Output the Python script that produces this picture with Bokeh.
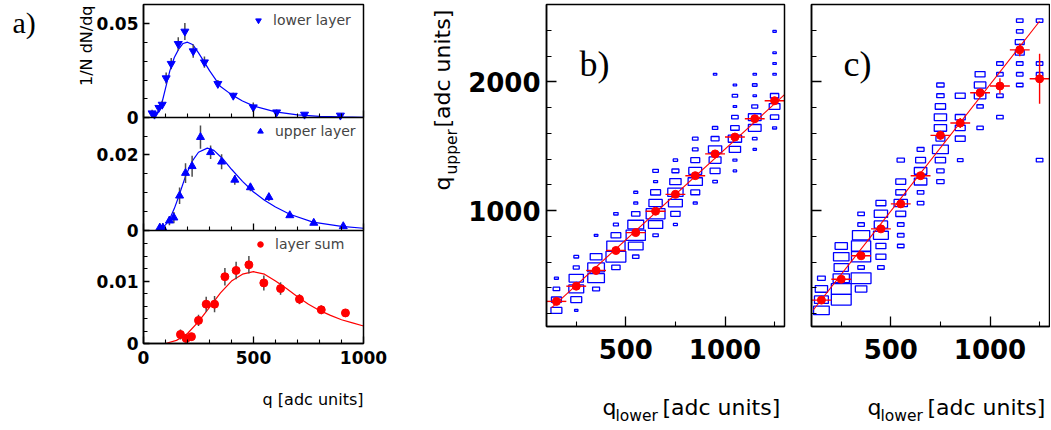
import math
import numpy as np
from bokeh.plotting import figure
from bokeh.models import (Range1d, FixedTicker, Label, Legend, LegendItem, LinearAxis,
                          BoxAnnotation)
from bokeh.layouts import row
from bokeh.embed import file_html
from bokeh.resources import INLINE

# ---------------- panel a data ----------------
lower_q = [39, 50, 70, 85, 103, 126, 158, 188, 226, 277, 338, 408, 499, 605, 732, 895]
lower_v = [0.0023, 0.0016, 0.0052, 0.0069, 0.0210, 0.0287, 0.0393, 0.0459, 0.0354, 0.0295,
           0.0180, 0.0117, 0.0055, 0.0028, 0.0016, 0.0011]
lower_e = [0.0018, 0.0015, 0.0015, 0.0020, 0.0030, 0.0030, 0.0035, 0.0045, 0.0035, 0.0030,
           0.0020, 0.0015, 0.0025, 0.0015, 0.0010, 0.0010]
lower_fit_q = [40, 60, 80, 100, 120, 140, 160, 180, 200, 225, 250, 275, 300, 350, 400, 450,
               500, 600, 700, 800, 900, 1000]
lower_fit_v = [0.0005, 0.0020, 0.0060, 0.0155, 0.0250, 0.0320, 0.0365, 0.0395, 0.0402, 0.0388,
               0.0345, 0.0298, 0.0250, 0.0165, 0.0122, 0.0088, 0.0062, 0.0030, 0.0014, 0.0006,
               0.0003, 0.0001]

upper_q = [74, 88, 118, 138, 164, 191, 221, 259, 305, 355, 415, 486, 570, 665, 774, 908]
upper_v = [0.0007, 0.0007, 0.0026, 0.0034, 0.0092, 0.0152, 0.0170, 0.0247, 0.0207, 0.0182,
           0.0134, 0.0114, 0.0088, 0.0040, 0.0020, 0.0011]
upper_e = [0.0012, 0.0012, 0.0012, 0.0015, 0.0022, 0.0026, 0.0028, 0.0031, 0.0018, 0.0020,
           0.0013, 0.0010, 0.0010, 0.0005, 0.0004, 0.0004]
upper_fit_q = [60, 80, 100, 120, 140, 160, 190, 220, 250, 290, 320, 360, 400, 450, 500, 550,
               600, 665, 770, 900, 1000]
upper_fit_v = [0.0, 0.0005, 0.0015, 0.0032, 0.0058, 0.0090, 0.0142, 0.0182, 0.0207, 0.0218,
               0.0212, 0.0190, 0.0162, 0.0130, 0.0102, 0.0080, 0.0062, 0.0043, 0.0022, 0.0011,
               0.0006]

sum_q = [168, 194, 218, 250, 285, 323, 370, 421, 479, 547, 623, 709, 808, 918]
sum_v = [0.00145, 0.0008, 0.0011, 0.0037, 0.0063, 0.0063, 0.0107, 0.0117, 0.0126, 0.0097,
         0.0088, 0.0071, 0.0054, 0.0049]
sum_e = [0.0008, 0.0006, 0.0006, 0.0009, 0.0012, 0.0013, 0.0014, 0.0014, 0.0014, 0.0012,
         0.0010, 0.0008, 0.0007, 0.0006]
sum_fit_q = [100, 150, 200, 250, 300, 350, 400, 450, 500, 550, 600, 650, 700, 750, 800, 850,
             900, 950, 1000]
sum_fit_v = [0.0, 0.0005, 0.0016, 0.0035, 0.0058, 0.0081, 0.0100, 0.0111, 0.0115, 0.0111,
             0.0100, 0.0088, 0.0075, 0.0063, 0.0053, 0.0045, 0.0038, 0.0033, 0.0028]

a_xticks = [0, 500, 1000]
a_xminor = [100, 200, 300, 400, 600, 700, 800, 900]

# ---------------- panels b, c data ----------------
q_bin_width = 100.0          # x bins: 100..1300
y_bin_lo, y_bin_hi, y_nbins = 100.0, 2600.0, 30

b_box_q = ([150] * 4 + [250] * 6 + [350] * 5 + [450] * 6 + [550] * 7 + [650] * 7 + [750] * 7 +
           [850] * 7 + [950] * 7 + [1050] * 9 + [1150] * 8 + [1250] * 8)
b_box_bin = [1, 2, 3, 4,
             1, 2, 3, 4, 5, 6,
             3, 4, 5, 6, 8,
             5, 6, 7, 8, 9, 10,
             6, 7, 8, 9, 10, 11, 12,
             8, 9, 10, 11, 12, 13, 14,
             9, 10, 11, 12, 13, 14, 15,
             11, 12, 13, 14, 15, 16, 17,
             13, 14, 15, 16, 17, 18, 23,
             14, 15, 16, 17, 18, 19, 20, 21, 22,
             16, 17, 18, 19, 20, 21, 22, 23,
             18, 19, 20, 21, 23, 24, 25, 27]
b_box_size = [0.55, 0.50, 0.33, 0.20,
              0.17, 0.55, 0.75, 0.72, 0.30, 0.24,
              0.35, 0.84, 0.84, 0.59, 0.18,
              0.42, 1.00, 0.92, 0.49, 0.25, 0.22,
              0.32, 0.74, 0.97, 0.80, 0.42, 0.20, 0.20,
              0.27, 0.72, 0.95, 0.67, 0.50, 0.20, 0.28,
              0.20, 0.47, 0.70, 0.77, 0.57, 0.35, 0.22,
              0.20, 0.45, 0.72, 0.65, 0.45, 0.28, 0.28,
              0.23, 0.50, 0.60, 0.67, 0.40, 0.27, 0.17,
              0.17, 0.20, 0.57, 0.67, 0.43, 0.33, 0.17, 0.27, 0.17,
              0.17, 0.23, 0.64, 0.64, 0.30, 0.17, 0.23, 0.17,
              0.20, 0.42, 0.54, 0.42, 0.17, 0.17, 0.17, 0.17]

c_box_q = ([150] * 4 + [250] * 6 + [350] * 8 + [450] * 7 + [550] * 8 + [650] * 6 + [750] * 10 +
           [850] * 5 + [950] * 5 + [1050] * 4 + [1150] * 7 + [1250] * 4)
c_box_bin = [1, 2, 3, 4,
             2, 3, 4, 5, 6, 7,
             3, 4, 5, 6, 7, 8, 9, 10,
             5, 6, 7, 8, 9, 10, 11,
             7, 8, 9, 10, 11, 12, 13, 15,
             11, 12, 13, 14, 15, 16,
             13, 14, 15, 16, 17, 18, 19, 20, 21, 22,
             15, 17, 18, 19, 21,
             18, 20, 21, 22, 23,
             19, 21, 23, 24,
             22, 23, 24, 25, 26, 27, 28,
             15, 23, 24, 28]
c_box_size = [0.79, 0.70, 0.62, 0.39,
              1.00, 1.00, 0.82, 0.72, 0.78, 0.62,
              0.58, 1.00, 0.33, 0.97, 0.97, 0.87, 0.33, 0.33,
              0.33, 0.50, 0.50, 0.75, 0.67, 0.67, 0.50,
              0.33, 0.33, 0.33, 0.50, 0.67, 0.50, 0.50, 0.37,
              0.33, 0.33, 0.63, 0.63, 0.50, 0.35,
              0.37, 0.37, 0.52, 0.80, 0.45, 0.62, 0.62, 0.52, 0.37, 0.37,
              0.28, 0.50, 0.50, 0.50, 0.50,
              0.32, 0.32, 0.58, 0.58, 0.50,
              0.33, 0.33, 0.33, 0.33,
              0.33, 0.33, 0.33, 0.45, 0.45, 0.33, 0.33,
              0.33, 0.33, 0.33, 0.33]

prof_q = [150, 250, 350, 450, 550, 650, 750, 850, 950, 1050, 1150, 1250]
b_prof_v = [295, 413, 535, 690, 829, 995, 1126, 1271, 1440, 1571, 1713, 1853]
b_prof_e = [18, 18, 18, 18, 18, 18, 18, 18, 18, 18, 18, 18]
c_prof_v = [305, 467, 649, 858, 1052, 1271, 1584, 1680, 1915, 1967, 2248, 2023]
c_prof_e = [20, 20, 20, 22, 22, 28, 35, 39, 25, 60, 49, 194]

b_fit_q = [125, 1300]
b_fit_v = [245, 1900]
c_fit_q = [110, 1250]
c_fit_v = [230, 2470]

bc_yticks = [1000, 2000]
bc_yminor = [200, 400, 600, 800, 1200, 1400, 1600, 1800, 2200, 2400]
bc_xticks = [500, 1000]
bc_xminor = [250, 750, 1250]

# ---------------- style ----------------
BLUE = "#0000ff"
RED = "#ff0000"
ERRC = "#4d4d4d"
TF = "DejaVu Sans"
SERIF = "Liberation Serif"
H = 428
BASE_SHIFT = 0.33   # rendered baseline sits ~0.33 em below the anchor; compensate


def style_axis(ax, ticks, minor, tin, tmin, fs, standoff, bounds, show=True):
    ax.ticker = FixedTicker(ticks=ticks, minor_ticks=minor)
    ax.bounds = bounds
    ax.major_tick_in = tin
    ax.major_tick_out = 0
    ax.minor_tick_in = tmin
    ax.minor_tick_out = 0
    ax.major_tick_line_width = 1.3
    ax.minor_tick_line_width = 1.1
    ax.major_tick_line_color = "black"
    ax.minor_tick_line_color = "black"
    ax.axis_line_width = 1.5
    ax.axis_line_color = "black"
    ax.major_label_text_font = TF
    ax.major_label_text_font_style = "bold"
    ax.major_label_text_color = "black"
    ax.major_label_text_font_size = fs
    ax.major_label_standoff = standoff
    if not show:
        ax.major_label_overrides = {t: "" for t in ticks}


class Panel:
    """A figure whose frame fills the canvas; the visible plot box sits inside it."""

    def __init__(self, W, left, top, fw, fh, xlo, xhi, ylo, yhi):
        self.sx = (xhi - xlo) / fw
        self.sy = (yhi - ylo) / fh
        self.x0 = xlo - left * self.sx
        self.y1 = yhi + top * self.sy
        xr = Range1d(self.x0, xhi + (W - left - fw) * self.sx)
        yr = Range1d(ylo - (H - top - fh) * self.sy, self.y1)
        p = figure(width=W, height=H, x_range=xr, y_range=yr, x_axis_location=None,
                   y_axis_location=None, min_border=0, min_border_left=0, min_border_right=0,
                   min_border_top=0, min_border_bottom=0, output_backend="svg",
                   toolbar_location=None)
        p.xgrid.grid_line_color = None
        p.ygrid.grid_line_color = None
        p.outline_line_color = None
        p.background_fill_color = "white"
        p.border_fill_color = "white"
        self.xaxis = LinearAxis(fixed_location=ylo)
        self.yaxis = LinearAxis(fixed_location=xlo)
        p.add_layout(self.xaxis, "below")
        p.add_layout(self.yaxis, "left")
        p.add_layout(BoxAnnotation(left=xlo, right=xhi, bottom=ylo, top=yhi, fill_color=None,
                                   fill_alpha=0, line_color="black", line_alpha=1.0,
                                   line_width=1.5, level="overlay"))
        self.p = p

    def dx(self, cx):
        return self.x0 + cx * self.sx

    def dy(self, cy):
        return self.y1 - cy * self.sy

    def text(self, cx, cy, text, size, font=TF, align="left", rotated=False):
        px = float(size.replace("px", ""))
        if rotated:
            cx -= BASE_SHIFT * px
        else:
            cy -= BASE_SHIFT * px
        self.p.add_layout(Label(x=self.dx(cx), y=self.dy(cy), text=text, text_font=font,
                                text_font_size=size, text_align=align,
                                text_baseline="alphabetic",
                                angle=math.pi / 2 if rotated else 0.0, text_color="black"))


# ================= panel a (three stacked pads in one box) =================
A_W, A_L, A_T, A_FW, A_FH = 403, 143, 4, 220, 339
A = Panel(A_W, A_L, A_T, A_FW, A_FH, 0, 1000, 0, 3)
pa = A.p

ymax = {"lo": 0.0603, "up": 0.0299, "su": 0.0181}
offs = {"lo": 2, "up": 1, "su": 0}
pa.extra_y_ranges = {pad: Range1d((pa.y_range.start - offs[pad]) * ymax[pad],
                                  (pa.y_range.end - offs[pad]) * ymax[pad]) for pad in ymax}


def pos(pad, v):
    return offs[pad] + v / ymax[pad]


def pad_plot(pad, q, v, e, fq, fv, marker, color, size):
    q = np.array(q, float)
    v = np.array(v, float)
    e = np.array(e, float)
    pa.line(fq, fv, y_range_name=pad, line_color=color, line_width=1.2)
    pa.segment(x0=q, y0=np.maximum(v - e, 0), x1=q, y1=v + e, y_range_name=pad,
               line_color=ERRC, line_width=1.5)
    return pa.scatter(q, v, marker=marker, size=size, fill_color=color, line_color=color,
                      y_range_name=pad)


r_lo = pad_plot("lo", lower_q, lower_v, lower_e, lower_fit_q, lower_fit_v, "inverted_triangle", BLUE, 8)
r_up = pad_plot("up", upper_q, upper_v, upper_e, upper_fit_q, upper_fit_v, "triangle", BLUE, 8)
r_su = pad_plot("su", sum_q, sum_v, sum_e, sum_fit_q, sum_fit_v, "circle", RED, 8)

ya_major_vals = [("lo", 0.0, "0"), ("lo", 0.05, "0.05"), ("up", 0.0, "0"), ("up", 0.02, "0.02"),
                 ("su", 0.0, "0"), ("su", 0.01, "0.01")]
ya_minor_vals = ([("lo", v) for v in (0.01, 0.02, 0.03, 0.04)] +
                 [("up", v) for v in (0.005, 0.01, 0.015, 0.025)] +
                 [("su", v) for v in (0.002, 0.004, 0.006, 0.008, 0.012, 0.014, 0.016)])
ya_major = [pos(pd, v) for pd, v, _ in ya_major_vals]
ya_minor = [pos(pd, v) for pd, v in ya_minor_vals]
style_axis(A.yaxis, ya_major, ya_minor, 6, 4, "17px", 5, (0, 3))
A.yaxis.major_label_overrides = {m: lab for m, (_, _, lab) in zip(ya_major, ya_major_vals)}
style_axis(A.xaxis, a_xticks, a_xminor, 7, 4, "17px", 7, (0, 1000))

for loc in (1, 2):
    ax = LinearAxis(fixed_location=loc)
    style_axis(ax, a_xticks, a_xminor, 7, 4, "17px", 0, (0, 1000), show=False)
    pa.add_layout(ax, "below")

for rend, txt, (mx, my) in ((r_lo, "lower layer", (258, 21)),
                            (r_up, "upper layer", (260, 132)),
                            (r_su, "layer sum", (260, 245))):
    lg = Legend(items=[LegendItem(label=txt, renderers=[rend])],
                location=(mx - 13, H - my - 10),
                border_line_alpha=0, background_fill_alpha=0, label_text_font=TF,
                label_text_font_size="14px", glyph_width=20, glyph_height=14,
                label_height=14, padding=3, spacing=0, margin=0, label_standoff=5)
    pa.add_layout(lg)

A.text(12, 32, "a)", "30px", font=SERIF)
A.text(91, 5, "1/N dN/dq", "16px", align="right", rotated=True)
A.text(A_L + A_FW, 404.5, "q [adc units]", "16px", align="right")

# ================= panels b and c =================
B_W, B_L, B_FW = 395, 143, 238
C_W, C_L, C_FW = 252, 13, 238
BC_T, BC_FH = 4, 322
ybw = (y_bin_hi - y_bin_lo) / y_nbins


def scatter_panel(p, box_q, box_bin, box_size, prof_v, prof_e, fit_q, fit_v):
    bq = np.array(box_q, float)
    by = y_bin_lo + (np.array(box_bin, float) + 0.5) * ybw
    bs = np.array(box_size, float)
    p.rect(x=bq, y=by, width=bs * q_bin_width, height=bs * ybw, fill_alpha=0,
           line_color=BLUE, line_width=1.3)
    p.line(fit_q, fit_v, line_color=RED, line_width=1.1)
    pq = np.array(prof_q, float)
    pv = np.array(prof_v, float)
    pe = np.array(prof_e, float)
    p.segment(x0=pq - q_bin_width / 2, y0=pv, x1=pq + q_bin_width / 2, y1=pv,
              line_color=RED, line_width=1.4)
    p.segment(x0=pq, y0=pv - pe, x1=pq, y1=pv + pe, line_color=RED, line_width=1.4)
    p.scatter(pq, pv, marker="circle", size=8, fill_color=RED, line_color=RED)


def lower_title(P, frame_right):
    P.text(frame_right - 182, 414, "q", "22px")
    P.text(frame_right - 169, 421, "lower", "15.5px")
    P.text(frame_right - 122, 414, "[adc units]", "22px")


B = Panel(B_W, B_L, BC_T, B_FW, BC_FH, 100, 1300, 100, 2600)
scatter_panel(B.p, b_box_q, b_box_bin, b_box_size, b_prof_v, b_prof_e, b_fit_q, b_fit_v)
style_axis(B.yaxis, bc_yticks, bc_yminor, 10, 5, "26px", 6, (100, 2600))
style_axis(B.xaxis, bc_xticks, bc_xminor, 10, 5, "26px", 12, (100, 1300))
B.text(176, 75, "b)", "36px", font=SERIF)
B.text(46, 190, "q", "22px", rotated=True)
B.text(54, 174, "upper", "15.5px", rotated=True)
B.text(46, 127, "[adc units]", "22px", rotated=True)
lower_title(B, B_L + B_FW)

C = Panel(C_W, C_L, BC_T, C_FW, BC_FH, 100, 1300, 100, 2600)
scatter_panel(C.p, c_box_q, c_box_bin, c_box_size, c_prof_v, c_prof_e, c_fit_q, c_fit_v)
style_axis(C.yaxis, bc_yticks, bc_yminor, 10, 5, "26px", 0, (100, 2600), show=False)
style_axis(C.xaxis, bc_xticks, bc_xminor, 10, 5, "26px", 12, (100, 1300))
C.text(45, 75, "c)", "36px", font=SERIF)
lower_title(C, C_L + C_FW)

layout = row(pa, B.p, C.p)
open("out.html", "w").write(file_html(layout, INLINE))
